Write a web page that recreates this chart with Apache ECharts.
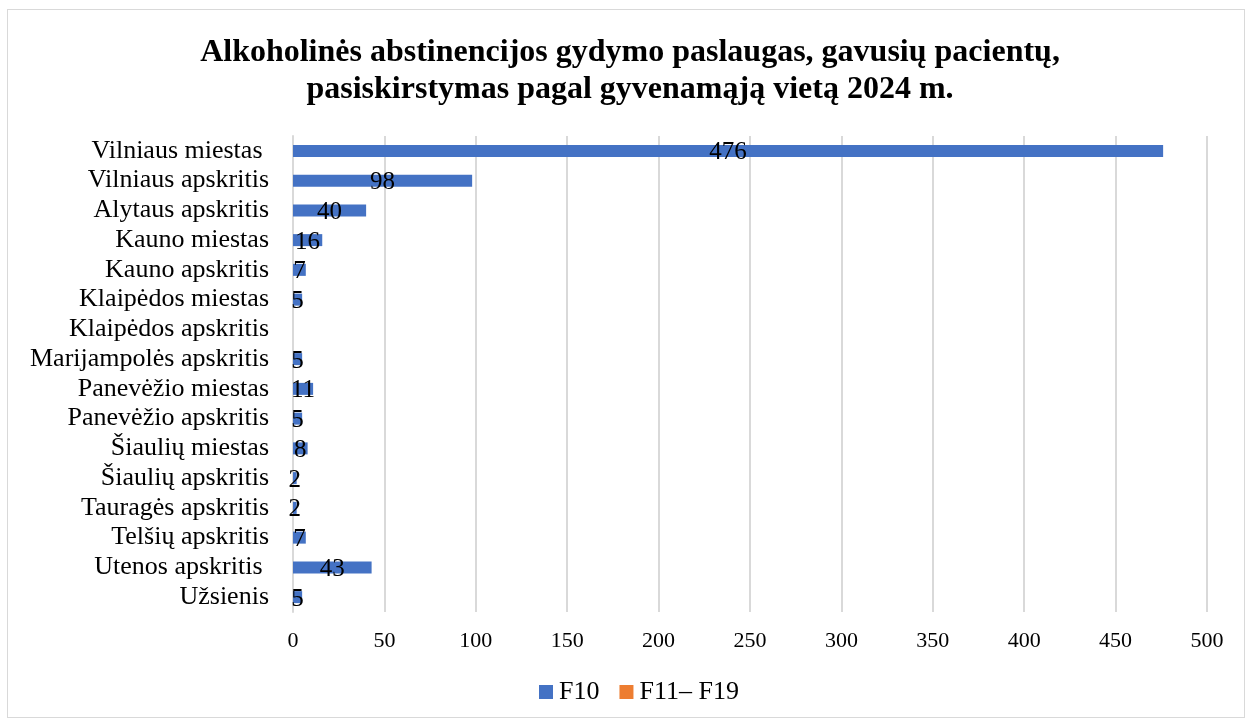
<!DOCTYPE html>
<html style="height: 100%">
   <head>
       <meta charset="utf-8">
   </head>
   <body style="height: 100%; margin: 0; background: #fff">
       <div id="container" style="position: absolute; left: 7px; top: 9px; width: 1238px; height: 709px; border: 1px solid #d9d9d9; box-sizing: border-box"></div>
       <script type="text/javascript" src="https://cdn.jsdelivr.net/npm/echarts@6/dist/echarts.min.js"></script>
       <script type="text/javascript">
var categories = ['Vilniaus miestas ', 'Vilniaus apskritis', 'Alytaus apskritis', 'Kauno miestas', 'Kauno apskritis',
    'Klaipėdos miestas', 'Klaipėdos apskritis', 'Marijampolės apskritis', 'Panevėžio miestas', 'Panevėžio apskritis',
    'Šiaulių miestas', 'Šiaulių apskritis', 'Tauragės apskritis', 'Telšių apskritis', 'Utenos apskritis ', 'Užsienis'];
var f10 = [476, 98, 40, 16, 7, 5, null, 5, 11, 5, 8, 2, 2, 7, 43, 5];
var f11_19 = [null, null, null, null, null, null, null, null, null, null, null, null, null, null, null, null];

var dom = document.getElementById("container");
var myChart = echarts.init(dom);
var font = '"Liberation Serif", "Times New Roman", serif';
var option = {
    textStyle: {fontFamily: font},
    title: {
        text: 'Alkoholinės abstinencijos gydymo paslaugas, gavusių pacientų,\npasiskirstymas pagal gyvenamąją vietą 2024 m.',
        left: 617, top: 19, textAlign: 'center',
        textStyle: {fontFamily: font, fontSize: 32, fontWeight: 'bold', color: '#000', lineHeight: 37}
    },
    legend: {
        data: ['F10', 'F11– F19'],
        top: 664, left: 526,
        itemWidth: 14, itemHeight: 14, itemGap: 20,
        icon: 'rect',
        textStyle: {fontFamily: font, fontSize: 26, color: '#000', padding: [0, 0, 0, 1]}
    },
    grid: {left: 285, right: 37, top: 126, bottom: 105, containLabel: false},
    xAxis: {
        type: 'value', min: 0, max: 500, interval: 50,
        axisLine: {show: false}, axisTick: {show: false},
        splitLine: {lineStyle: {color: '#d9d9d9', width: 2}},
        axisLabel: {fontFamily: font, fontSize: 22, color: '#000', margin: 18}
    },
    yAxis: {
        type: 'category', data: categories, inverse: true,
        axisLine: {lineStyle: {color: '#d9d9d9', width: 2}},
        axisTick: {show: false},
        axisLabel: {fontFamily: font, fontSize: 26, color: '#000', margin: 24, interval: 0}
    },
    series: [
        {
            name: 'F10', type: 'bar', data: f10, barWidth: 12, barGap: '-100%',
            itemStyle: {color: '#4472c4'},
            label: {show: true, position: 'inside', offset: [0, 2], color: '#000', fontFamily: font, fontSize: 25}
        },
        {
            name: 'F11– F19', type: 'bar', data: f11_19, barWidth: 12,
            itemStyle: {color: '#ed7d31'}
        }
    ]
};
myChart.setOption(option);
       </script>
   </body>
</html>
